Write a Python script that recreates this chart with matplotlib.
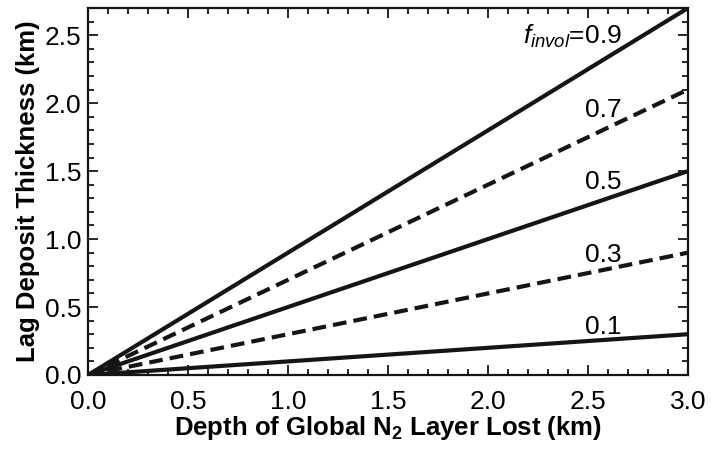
import numpy as np
import matplotlib
matplotlib.use('Agg')
import matplotlib.pyplot as plt
from matplotlib.ticker import MultipleLocator, FormatStrFormatter

plt.rcParams['font.family'] = ['Liberation Sans Narrow', 'Liberation Sans', 'DejaVu Sans']
plt.rcParams['mathtext.fontset'] = 'custom'
plt.rcParams['mathtext.rm'] = 'Liberation Sans'
plt.rcParams['mathtext.it'] = 'Liberation Sans:italic'
plt.rcParams['mathtext.bf'] = 'Liberation Sans:bold'

# data: lag thickness at start and end of the depth range
depth = [0.0, 3.0]
f_invol = [0.9, 0.7, 0.5, 0.3, 0.1]
lag = {0.9: [0.0, 2.7], 0.7: [0.0, 2.1], 0.5: [0.0, 1.5], 0.3: [0.0, 0.9], 0.1: [0.0, 0.3]}
label_y = {0.9: 2.49, 0.7: 1.95, 0.5: 1.42, 0.3: 0.88, 0.1: 0.35}
styles = {0.9: '-', 0.7: '--', 0.5: '-', 0.3: '--', 0.1: '-'}

fig = plt.figure(figsize=(7.22, 4.51), dpi=100)
ax = fig.add_axes([88/722, 1-375/451, 600/722, 367/451])

for f in f_invol:
    ln, = ax.plot(depth, lag[f], color='#151515', lw=3.0, ls=styles[f], solid_capstyle='butt')
    if styles[f] == '--':
        ln.set_dashes((3.3, 1.7))
    if f == 0.9:
        lab = r'$f_{invol}$=0.9'
    else:
        lab = str(f)
    ax.text(2.67, label_y[f], lab, ha='right', va='center', fontsize=19)

ax.set_xlim(0, 3.0)
ax.set_ylim(0, 2.7)
ax.xaxis.set_major_locator(MultipleLocator(0.5))
ax.xaxis.set_minor_locator(MultipleLocator(0.1))
ax.yaxis.set_major_locator(MultipleLocator(0.5))
ax.yaxis.set_minor_locator(MultipleLocator(0.1))
ax.xaxis.set_major_formatter(FormatStrFormatter('%.1f'))
ax.yaxis.set_major_formatter(FormatStrFormatter('%.1f'))
ax.tick_params(which='both', direction='in', top=True, right=True, width=1.3, labelsize=19, color='#151515')
ax.tick_params(which='major', length=7)
ax.tick_params(which='minor', length=4)
ax.tick_params(axis='x', which='major', pad=11)
ax.tick_params(axis='y', which='major', pad=5)
for s in ax.spines.values():
    s.set_linewidth(1.6)
    s.set_color('#151515')

ax.set_xlabel(r'Depth of Global N$_\mathbf{2}$ Layer Lost (km)', fontsize=18.5, fontweight='bold', labelpad=0)
ax.set_ylabel('Lag Deposit Thickness (km)', fontsize=18.5, fontweight='bold', labelpad=3)

fig.savefig('out.png', dpi=100)
